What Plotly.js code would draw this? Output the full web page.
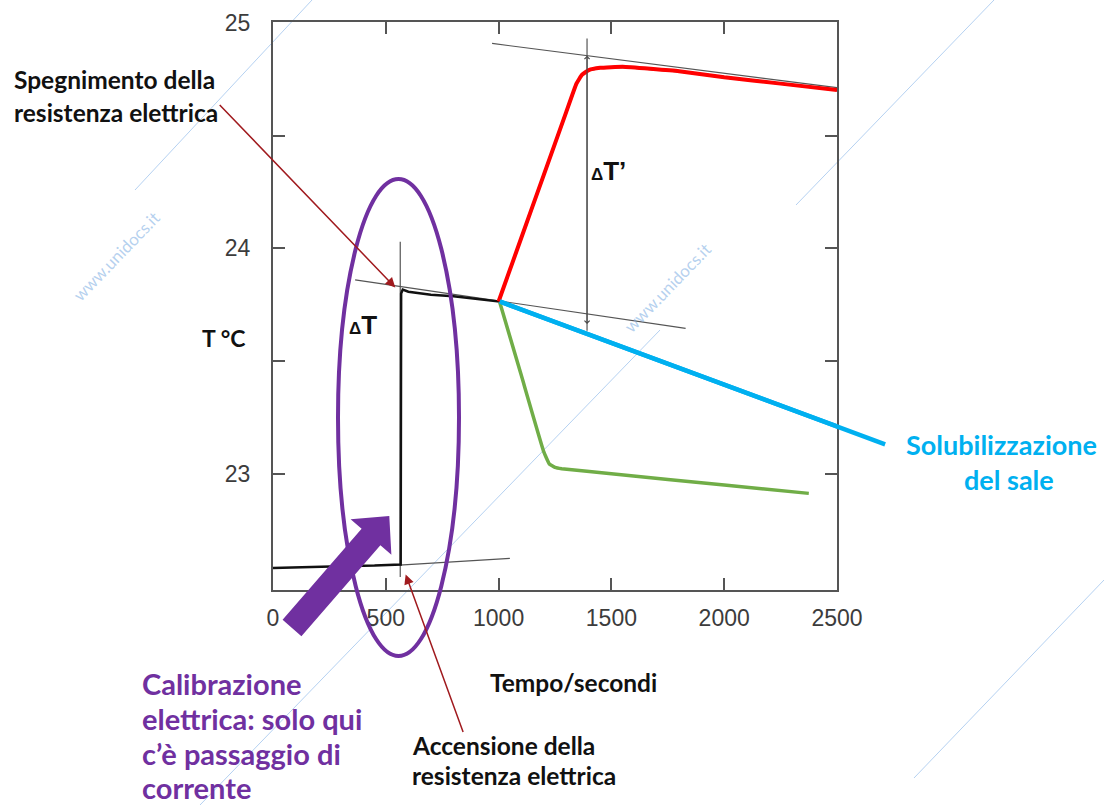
<!DOCTYPE html>
<html>
<head>
<meta charset="utf-8">
<script src="https://cdn.plot.ly/plotly-3.0.1.min.js"></script>
<style>html,body{margin:0;padding:0;background:#fff;}#chart{width:1104px;height:805px;}</style>
</head>
<body>
<div id="chart"></div>
<script>
// ---- data (time in s, temperature in °C) ----
const expTime = [0, 150, 300, 450, 555, 566, 568, 575, 600, 650, 700, 800, 900, 1000, 1100, 1200, 1300, 1345, 1370, 1400, 1450, 1550, 1800, 2000, 2250, 2500];
const expTemp = [22.585, 22.59, 22.592, 22.595, 22.598, 22.60, 23.80, 23.818, 23.808, 23.80, 23.795, 23.788, 23.778, 23.765, 24.045, 24.325, 24.605, 24.73, 24.77, 24.79, 24.80, 24.805, 24.785, 24.758, 24.73, 24.702];
const exoTime = [1000, 1100, 1200, 1300, 1345, 1370, 1400, 1450, 1550, 1800, 2000, 2250, 2500];
const exoTemp = [23.765, 24.045, 24.325, 24.605, 24.73, 24.77, 24.79, 24.80, 24.805, 24.785, 24.758, 24.73, 24.702];
const endoTime = [1005, 1100, 1200, 1225, 1250, 1280, 1500, 2000, 2375];
const endoTemp = [23.762, 23.44, 23.10, 23.045, 23.03, 23.024, 23.002, 22.952, 22.915];
const solTime = [1005, 2720];
const solTemp = [23.765, 23.13];
const fitPreTime = [560, 1050];
const fitPreTemp = [22.597, 22.627];
const fitMidTime = [364, 1829];
const fitMidTemp = [23.861, 23.646];
const fitPostTime = [971, 2500];
const fitPostTemp = [24.908, 24.712];
const dT1Time = [564, 564];
const dT1Temp = [24.03, 22.545];
const dT2Time = [1392, 1392];
const dT2Temp = [24.93, 23.635];
const xTickVals = [0, 500, 1000, 1500, 2000, 2500];
const xTickText = ['0', '500', '1000', '1500', '2000', '2500'];
const yTickVals = [23, 23.5, 24, 24.5, 25];
const yTickText = ['23', '', '24', '', '25'];

// ---- geometry helpers for decorations (pixel -> paper) ----
const M = {l: 273, r: 267, t: 22, b: 215};
const W = 1104, H = 805;
const PW = W - M.l - M.r, PH = H - M.t - M.b;
const PX = p => (p - M.l) / PW;
const PY = p => (H - M.b - p) / PH;

const thin = {color: '#555', width: 1.2};
const traces = [
  {x: fitPreTime, y: fitPreTemp, mode: 'lines', line: thin, hoverinfo: 'skip'},
  {x: fitMidTime, y: fitMidTemp, mode: 'lines', line: thin, hoverinfo: 'skip'},
  {x: fitPostTime, y: fitPostTemp, mode: 'lines', line: thin, hoverinfo: 'skip'},
  {x: dT1Time, y: dT1Temp, mode: 'lines', line: thin, hoverinfo: 'skip'},
  {x: dT2Time, y: dT2Temp, mode: 'lines', line: thin, hoverinfo: 'skip'},
  {x: expTime, y: expTemp, mode: 'lines', line: {color: '#111', width: 2.5}},
  {x: endoTime, y: endoTemp, mode: 'lines', line: {color: '#70AD47', width: 3.5, shape: 'spline', smoothing: 0.3}},
  {x: solTime, y: solTemp, mode: 'lines', line: {color: '#00B0F0', width: 4.5}},
  {x: exoTime, y: exoTemp, mode: 'lines', line: {color: '#FF0000', width: 4, shape: 'spline', smoothing: 0.3}}
];

const lato = (size, color) => ({family: 'Lato, "Open Sans", sans-serif', size: size, color: color});
function txt(text, px, py, size, color, anchor) {
  return {xref: 'paper', yref: 'paper', x: PX(px), y: PY(py), text: '<b>' + text + '</b>',
    showarrow: false, xanchor: anchor || 'left', yanchor: 'middle', font: lato(size, color)};
}
function wm(px, py, size) {
  return {xref: 'paper', yref: 'paper', x: PX(px), y: PY(py), text: 'www.unidocs.it', showarrow: false,
    textangle: -46, font: {family: 'Lato, sans-serif', size: size, color: 'rgba(120,170,225,0.55)'}};
}

const purple = '#7030A0', blue = '#00B0F0', darkred = '#A01A1E';
const annotations = [
  wm(65, 256, 17), wm(718, 287, 17),
  txt('Spegnimento della', 12, 80, 24.5, '#111'),
  txt('resistenza elettrica', 12, 113, 24.5, '#111'),
  txt('Accensione della', 410, 745, 24.5, '#111'),
  txt('resistenza elettrica', 410, 775, 24.5, '#111'),
  txt('Tempo/secondi', 488, 682, 24.5, '#111'),
  txt('T °C', 200, 338, 23, '#111'),
  txt('Calibrazione', 140, 683, 29, purple),
  txt('elettrica: solo qui', 140, 718, 29, purple),
  txt('c’è passaggio di', 140, 753, 29, purple),
  txt('corrente', 140, 787, 29, purple),
  txt('Solubilizzazione', 1001, 444, 27, blue, 'center'),
  txt('del sale', 1009, 479, 27, blue, 'center'),
  {xref: 'x', yref: 'y', x: 400, y: 23.66, showarrow: false,
   text: '<b><span style="font-size:17px">Δ</span>T</b>', font: {family: 'Liberation Sans, Arial', size: 26, color: '#111'}},
  {xref: 'x', yref: 'y', x: 1485, y: 24.345, showarrow: false,
   text: '<b><span style="font-size:17px">Δ</span>T’</b>', font: {family: 'Liberation Sans, Arial', size: 26, color: '#111'}},
  // blue line continues beyond the frame
  {xref: 'x', yref: 'y', axref: 'x', ayref: 'y', x: solTime[0], y: solTemp[0], ax: solTime[1], ay: solTemp[1],
   text: '', showarrow: true, arrowhead: 0, arrowwidth: 4.5, arrowcolor: blue},
  // red-brown pointer arrows
  {xref: 'x', yref: 'y', x: 542, y: 23.827, ax: -177, ay: -184, text: '', showarrow: true,
   arrowhead: 2, arrowsize: 1.3, arrowwidth: 1.5, arrowcolor: darkred},
  {xref: 'x', yref: 'y', x: 588, y: 22.556, ax: 58, ay: 159, text: '', showarrow: true,
   arrowhead: 2, arrowsize: 1.3, arrowwidth: 1.5, arrowcolor: darkred},
  // small arrow heads on delta-T' line
  {xref: 'x', yref: 'y', axref: 'x', ayref: 'y', x: dT2Time[0], y: 23.665, ax: dT2Time[0], ay: 24.86,
   text: '', showarrow: true, arrowhead: 4, arrowside: 'end+start', arrowsize: 1, arrowwidth: 1, arrowcolor: '#444'}
];

// purple block arrow (pixel outline -> paper)
const arrowPts = [[282.6, 619.8], [361.6, 528.8], [350.6, 519.3], [389.3, 515.9], [391.4, 554.7], [380.4, 545.2], [301.4, 636.3]];
const arrowPath = 'M ' + arrowPts.map(p => PX(p[0]).toFixed(4) + ',' + PY(p[1]).toFixed(4)).join(' L ') + ' Z';

const wl = {color: 'rgba(150,190,235,0.7)', width: 1};
function wline(x0, y0, x1, y1) {
  return {type: 'line', xref: 'paper', yref: 'paper', x0: PX(x0), y0: PY(y0), x1: PX(x1), y1: PY(y1), line: wl, layer: 'below'};
}
const shapes = [
  wline(135, 190, 312, 0), wline(200, 805, 660, 330), wline(796, 205, 994, 0), wline(914, 778, 1104, 580),
  {type: 'circle', xref: 'paper', yref: 'paper', x0: PX(338), x1: PX(459), y0: PY(656), y1: PY(179),
   line: {color: purple, width: 4}},
  {type: 'path', xref: 'paper', yref: 'paper', path: arrowPath, fillcolor: purple, line: {color: purple, width: 0}}
];

const axCommon = {
  showline: true, linecolor: '#555', linewidth: 2, mirror: 'ticks',
  ticks: 'inside', ticklen: 12, tickwidth: 2, tickcolor: '#555',
  showgrid: false, zeroline: false, tickmode: 'array',
  tickfont: {family: 'Liberation Sans, Arial, sans-serif', size: 23, color: '#3c3c3c'}
};

const layout = {
  width: W, height: H, margin: M,
  paper_bgcolor: '#fff', plot_bgcolor: 'rgba(0,0,0,0)',
  showlegend: false,
  xaxis: Object.assign({}, axCommon, {range: [0, 2500], tickvals: xTickVals, ticktext: xTickText, ticklabelstandoff: 6}),
  yaxis: Object.assign({}, axCommon, {range: [22.487, 25.003], tickvals: yTickVals, ticktext: yTickText, ticklabelstandoff: 16}),
  annotations: annotations,
  shapes: shapes
};

Plotly.newPlot('chart', traces, layout, {displayModeBar: false, staticPlot: true});
</script>
</body>
</html>
